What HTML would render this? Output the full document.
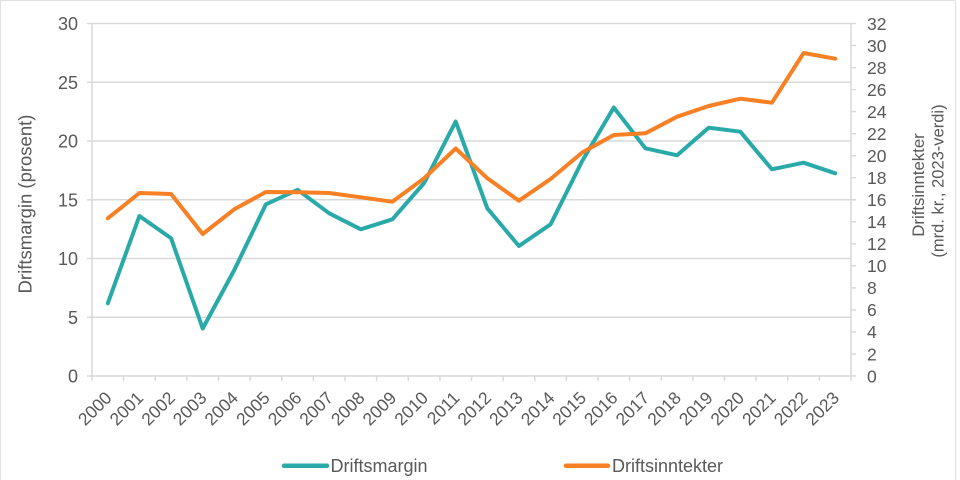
<!DOCTYPE html>
<html>
<head>
<meta charset="utf-8">
<style>
  html, body { margin:0; padding:0; background:#fff; }
  svg { display:block; }
  text { font-family: "Liberation Sans", Arial, sans-serif; fill:#595959; }
</style>
</head>
<body>
<svg width="960" height="480" viewBox="0 0 960 480" xmlns="http://www.w3.org/2000/svg">
  <rect x="0" y="0" width="960" height="480" fill="#fff"/>
  <rect x="0.5" y="0.5" width="955" height="482" fill="none" stroke="#e2e2e2" stroke-width="1.2"/>

  <!-- gridlines -->
  <g stroke="#d9d9d9" stroke-width="1.5">
    <line x1="92" y1="23.5" x2="851" y2="23.5"/>
    <line x1="92" y1="82.3" x2="851" y2="82.3"/>
    <line x1="92" y1="141" x2="851" y2="141"/>
    <line x1="92" y1="199.8" x2="851" y2="199.8"/>
    <line x1="92" y1="258.5" x2="851" y2="258.5"/>
    <line x1="92" y1="317.3" x2="851" y2="317.3"/>
    <line x1="92" y1="376" x2="851" y2="376"/>
    <!-- axes -->
    <line x1="92" y1="23.5" x2="92" y2="381"/>
    <line x1="851" y1="23.5" x2="851" y2="376"/>
    <!-- left ticks -->
    <line x1="87" y1="23.5" x2="92" y2="23.5"/>
    <line x1="87" y1="82.3" x2="92" y2="82.3"/>
    <line x1="87" y1="141" x2="92" y2="141"/>
    <line x1="87" y1="199.8" x2="92" y2="199.8"/>
    <line x1="87" y1="258.5" x2="92" y2="258.5"/>
    <line x1="87" y1="317.3" x2="92" y2="317.3"/>
    <line x1="87" y1="376" x2="92" y2="376"/>
    <!-- right ticks -->
    <line x1="851" y1="376" x2="856" y2="376"/>
    <line x1="851" y1="354" x2="856" y2="354"/>
    <line x1="851" y1="331.9" x2="856" y2="331.9"/>
    <line x1="851" y1="309.9" x2="856" y2="309.9"/>
    <line x1="851" y1="287.9" x2="856" y2="287.9"/>
    <line x1="851" y1="265.8" x2="856" y2="265.8"/>
    <line x1="851" y1="243.8" x2="856" y2="243.8"/>
    <line x1="851" y1="221.8" x2="856" y2="221.8"/>
    <line x1="851" y1="199.8" x2="856" y2="199.8"/>
    <line x1="851" y1="177.7" x2="856" y2="177.7"/>
    <line x1="851" y1="155.7" x2="856" y2="155.7"/>
    <line x1="851" y1="133.7" x2="856" y2="133.7"/>
    <line x1="851" y1="111.6" x2="856" y2="111.6"/>
    <line x1="851" y1="89.6" x2="856" y2="89.6"/>
    <line x1="851" y1="67.6" x2="856" y2="67.6"/>
    <line x1="851" y1="45.5" x2="856" y2="45.5"/>
    <line x1="851" y1="23.5" x2="856" y2="23.5"/>
    <!-- bottom ticks -->
    <line x1="123.6" y1="376" x2="123.6" y2="381"/>
    <line x1="155.3" y1="376" x2="155.3" y2="381"/>
    <line x1="186.9" y1="376" x2="186.9" y2="381"/>
    <line x1="218.5" y1="376" x2="218.5" y2="381"/>
    <line x1="250.1" y1="376" x2="250.1" y2="381"/>
    <line x1="281.8" y1="376" x2="281.8" y2="381"/>
    <line x1="313.4" y1="376" x2="313.4" y2="381"/>
    <line x1="345" y1="376" x2="345" y2="381"/>
    <line x1="376.6" y1="376" x2="376.6" y2="381"/>
    <line x1="408.3" y1="376" x2="408.3" y2="381"/>
    <line x1="439.9" y1="376" x2="439.9" y2="381"/>
    <line x1="471.5" y1="376" x2="471.5" y2="381"/>
    <line x1="503.1" y1="376" x2="503.1" y2="381"/>
    <line x1="534.8" y1="376" x2="534.8" y2="381"/>
    <line x1="566.4" y1="376" x2="566.4" y2="381"/>
    <line x1="598" y1="376" x2="598" y2="381"/>
    <line x1="629.6" y1="376" x2="629.6" y2="381"/>
    <line x1="661.3" y1="376" x2="661.3" y2="381"/>
    <line x1="692.9" y1="376" x2="692.9" y2="381"/>
    <line x1="724.5" y1="376" x2="724.5" y2="381"/>
    <line x1="756.1" y1="376" x2="756.1" y2="381"/>
    <line x1="787.8" y1="376" x2="787.8" y2="381"/>
    <line x1="819.4" y1="376" x2="819.4" y2="381"/>
    <line x1="851" y1="376" x2="851" y2="381"/>
  </g>

  <!-- left tick labels -->
  <g font-size="18" text-anchor="end">
    <text x="78" y="30">30</text>
    <text x="78" y="88.8">25</text>
    <text x="78" y="147.5">20</text>
    <text x="78" y="206.3">15</text>
    <text x="78" y="265">10</text>
    <text x="78" y="323.8">5</text>
    <text x="78" y="382.5">0</text>
  </g>

  <!-- right tick labels -->
  <g font-size="17.5" text-anchor="start">
    <text x="867" y="382.3">0</text>
    <text x="867" y="360.3">2</text>
    <text x="867" y="338.2">4</text>
    <text x="867" y="316.2">6</text>
    <text x="867" y="294.2">8</text>
    <text x="867" y="272.1">10</text>
    <text x="867" y="250.1">12</text>
    <text x="867" y="228.1">14</text>
    <text x="867" y="206.1">16</text>
    <text x="867" y="184">18</text>
    <text x="867" y="162">20</text>
    <text x="867" y="140">22</text>
    <text x="867" y="117.9">24</text>
    <text x="867" y="95.9">26</text>
    <text x="867" y="73.9">28</text>
    <text x="867" y="51.8">30</text>
    <text x="867" y="29.8">32</text>
  </g>

  <!-- axis titles -->
  <text font-size="18.5" text-anchor="middle" transform="translate(31.5,204) rotate(-90)">Driftsmargin (prosent)</text>
  <text font-size="16.8" text-anchor="middle" transform="translate(924,185) rotate(-90)">Driftsinntekter</text>
  <text font-size="16.5" text-anchor="middle" transform="translate(943.5,181) rotate(-90)">(mrd. kr., 2023-verdi)</text>

  <!-- x labels -->
  <g font-size="17.5" text-anchor="end">
    <text transform="translate(112.8,399) rotate(-45)">2000</text>
    <text transform="translate(144.4,399) rotate(-45)">2001</text>
    <text transform="translate(176.1,399) rotate(-45)">2002</text>
    <text transform="translate(207.7,399) rotate(-45)">2003</text>
    <text transform="translate(239.3,399) rotate(-45)">2004</text>
    <text transform="translate(270.9,399) rotate(-45)">2005</text>
    <text transform="translate(302.6,399) rotate(-45)">2006</text>
    <text transform="translate(334.2,399) rotate(-45)">2007</text>
    <text transform="translate(365.8,399) rotate(-45)">2008</text>
    <text transform="translate(397.4,399) rotate(-45)">2009</text>
    <text transform="translate(429.1,399) rotate(-45)">2010</text>
    <text transform="translate(460.7,399) rotate(-45)">2011</text>
    <text transform="translate(492.3,399) rotate(-45)">2012</text>
    <text transform="translate(523.9,399) rotate(-45)">2013</text>
    <text transform="translate(555.6,399) rotate(-45)">2014</text>
    <text transform="translate(587.2,399) rotate(-45)">2015</text>
    <text transform="translate(618.8,399) rotate(-45)">2016</text>
    <text transform="translate(650.4,399) rotate(-45)">2017</text>
    <text transform="translate(682.1,399) rotate(-45)">2018</text>
    <text transform="translate(713.7,399) rotate(-45)">2019</text>
    <text transform="translate(745.3,399) rotate(-45)">2020</text>
    <text transform="translate(776.9,399) rotate(-45)">2021</text>
    <text transform="translate(808.6,399) rotate(-45)">2022</text>
    <text transform="translate(840.2,399) rotate(-45)">2023</text>
  </g>

  <!-- Driftsmargin (teal) -->
  <polyline fill="none" stroke="#2aa9a9" stroke-width="4" stroke-linejoin="round" stroke-linecap="round"
    points="107.8,303.3 139.4,216 171.1,238.3 202.7,328.5 234.3,270 265.9,204.3 297.6,189.8 329.2,213.3 360.8,229.3 392.4,219.3 424.1,183 455.7,121.5 487.3,208.3 518.9,246 550.6,224.3 582.2,161 613.8,107.5 645.4,148.3 677.1,155.3 708.7,127.7 740.3,131.7 771.9,169.3 803.6,162.7 835.2,173.3"/>

  <!-- Driftsinntekter (orange) -->
  <polyline fill="none" stroke="#f77f24" stroke-width="4" stroke-linejoin="round" stroke-linecap="round"
    points="107.8,218.3 139.4,193 171.1,194 202.7,234 234.3,209.3 265.9,192 297.6,192.3 329.2,193 360.8,197.3 392.4,201.7 424.1,178.3 455.7,148.5 487.3,178.3 518.9,200.7 550.6,179 582.2,152.5 613.8,135 645.4,133.3 677.1,116.7 708.7,106 740.3,98.7 771.9,102.7 803.6,53 835.2,58.7"/>

  <!-- legend -->
  <line x1="284" y1="465.8" x2="327" y2="465.8" stroke="#2aa9a9" stroke-width="4.5" stroke-linecap="round"/>
  <text x="330.5" y="472" font-size="18">Driftsmargin</text>
  <line x1="566" y1="465.8" x2="608" y2="465.8" stroke="#f77f24" stroke-width="4.5" stroke-linecap="round"/>
  <text x="612" y="472" font-size="18">Driftsinntekter</text>
</svg>
</body>
</html>
